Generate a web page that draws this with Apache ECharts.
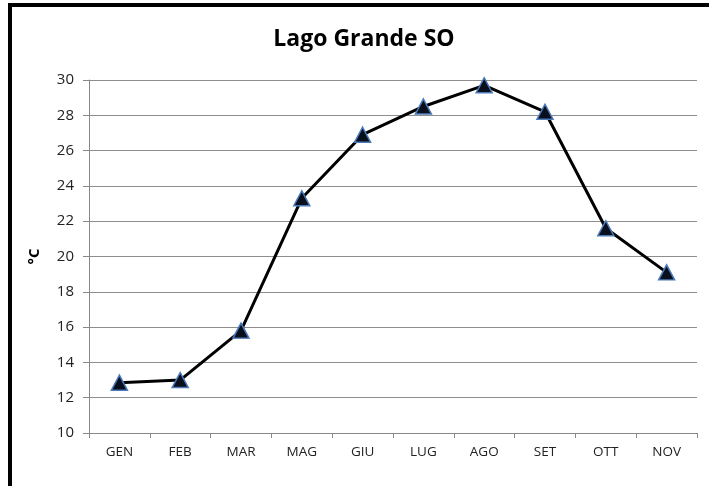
<!DOCTYPE html>
<html>
<head>
<meta charset="utf-8">
<script src="https://cdn.jsdelivr.net/npm/echarts@6/dist/echarts.min.js"></script>
<style>
    html, body {margin: 0; padding: 0; background: #fff;}
    #chart {width: 709px; height: 486px;}
</style>
</head>
<body>
<div id="chart"></div>
<script>
const months = ["GEN", "FEB", "MAR", "MAG", "GIU", "LUG", "AGO", "SET", "OTT", "NOV"];
const temps = [12.85, 13.0, 15.8, 23.3, 26.9, 28.5, 29.7, 28.2, 21.6, 19.1];
const yTicks = {min: 10, max: 30, step: 2};

const chart = echarts.init(document.getElementById("chart"));
const labelFont = "'Open Sans', sans-serif";

chart.setOption({
    animation: false,
    graphic: [{
        type: "rect",
        shape: {x: 10, y: 5, width: 800, height: 600},
        style: {fill: "none", stroke: "#000", lineWidth: 4},
        silent: true
    }],
    title: {
        text: "Lago Grande SO",
        left: 359,
        top: 23,
        textAlign: "center",
        textStyle: {fontFamily: labelFont, fontSize: 23, fontWeight: "bold", color: "#000"}
    },
    grid: {left: 89, right: 12, top: 80, bottom: 53},
    xAxis: {
        type: "category",
        data: months,
        boundaryGap: true,
        axisLine: {lineStyle: {color: "#888", width: 1}},
        axisTick: {show: true, length: 5, lineStyle: {color: "#888"}},
        axisLabel: {color: "#222", fontSize: 13.5, fontFamily: labelFont, margin: 12}
    },
    yAxis: {
        type: "value",
        min: yTicks.min,
        max: yTicks.max,
        interval: yTicks.step,
        name: "°C",
        nameLocation: "middle",
        nameGap: 47,
        nameRotate: 90,
        nameTextStyle: {color: "#000", fontSize: 15, fontWeight: "bold", fontFamily: labelFont},
        axisLine: {show: true, lineStyle: {color: "#888", width: 1}},
        axisTick: {show: true, length: 6, lineStyle: {color: "#888"}},
        axisLabel: {color: "#222", fontSize: 15, fontFamily: labelFont, margin: 15},
        splitLine: {lineStyle: {color: "#8e8e8e", width: 1}}
    },
    series: [{
        type: "line",
        data: temps,
        symbol: "triangle",
        symbolSize: [16, 15],
        lineStyle: {color: "#000", width: 3},
        itemStyle: {color: "#0a0f1e", borderColor: "#4a7ab8", borderWidth: 1.5}
    }]
});
</script>
</body>
</html>
